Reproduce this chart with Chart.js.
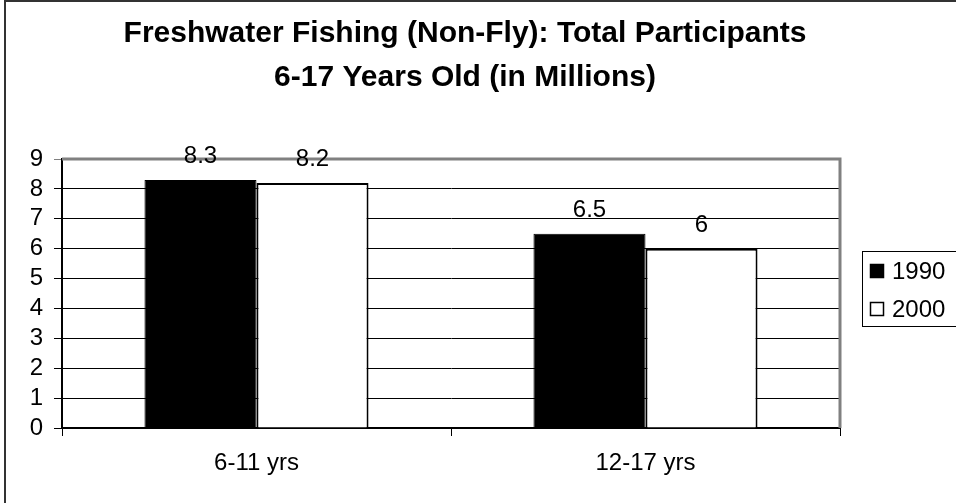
<!DOCTYPE html>
<html>
<head>
<meta charset="utf-8">
<title>Freshwater Fishing (Non-Fly)</title>
<script src="https://cdn.jsdelivr.net/npm/chart.js@4/dist/chart.umd.min.js"></script>
<style>
  body { margin: 0; background: #fff; }
  canvas { display: block; background: #fff; }
</style>
</head>
<body>
<canvas id="myChart" width="956" height="503"></canvas>
<script>
var titleLines = ['Freshwater Fishing (Non-Fly): Total Participants', '6-17 Years Old (in Millions)'];
var ageGroups = ['6-11 yrs', '12-17 yrs'];
var seriesNames = ['1990', '2000'];
var values1990 = [8.3, 6.5];
var values2000 = [8.2, 6];
var yTicks = [0, 1, 2, 3, 4, 5, 6, 7, 8, 9];

var FONT = '"Liberation Sans", Arial, sans-serif';

// title, outer frame and the gray plot border
var framePlugin = {
    id: 'frame',
    beforeDatasetsDraw: function (chart) {
        var c = chart.ctx, a = chart.chartArea;
        c.save();
        c.strokeStyle = '#808080';
        c.lineWidth = 3;
        c.beginPath();
        c.moveTo(a.left, a.top);
        c.lineTo(a.right, a.top);
        c.lineTo(a.right, a.bottom);
        c.stroke();
        c.restore();
    },
    afterDraw: function (chart) {
        var c = chart.ctx;
        c.save();
        c.strokeStyle = '#333';
        c.lineWidth = 2;
        c.beginPath();
        c.moveTo(5, 503);
        c.lineTo(5, 1);
        c.lineTo(956, 1);
        c.stroke();

        c.fillStyle = '#000';
        c.font = 'bold 30px ' + FONT;
        c.textAlign = 'center';
        c.textBaseline = 'middle';
        c.fillText(titleLines[0], 465, 34);
        c.fillText(titleLines[1], 465, 78);
        c.restore();
    }
};

// value labels above each bar
var valueLabels = {
    id: 'valueLabels',
    afterDatasetsDraw: function (chart) {
        var c = chart.ctx;
        c.save();
        c.fillStyle = '#000';
        c.font = '24px ' + FONT;
        c.textAlign = 'center';
        c.textBaseline = 'alphabetic';
        chart.data.datasets.forEach(function (ds, i) {
            chart.getDatasetMeta(i).data.forEach(function (bar, k) {
                c.fillText(String(ds.data[k]), bar.x, bar.y - 17);
            });
        });
        c.restore();
    }
};

// boxed legend on the right
var boxLegend = {
    id: 'boxLegend',
    afterDraw: function (chart) {
        var c = chart.ctx;
        c.save();
        c.strokeStyle = '#000';
        c.lineWidth = 1;
        c.strokeRect(862.5, 251.5, 110, 75);
        c.font = '24px ' + FONT;
        c.textBaseline = 'middle';
        c.textAlign = 'left';
        chart.data.datasets.forEach(function (ds, i) {
            var y = 271 + i * 38;
            c.fillStyle = ds.backgroundColor;
            c.fillRect(870, y - 7, 14, 14);
            c.strokeStyle = '#000';
            c.lineWidth = 1.5;
            c.strokeRect(870.5, y - 6.5, 13, 13);
            c.fillStyle = '#000';
            c.fillText(ds.label, 892, y + 1);
        });
        c.restore();
    }
};

var ctx = document.getElementById('myChart').getContext('2d');
var myChart = new Chart(ctx, {
    type: 'bar',
    data: {
        labels: ageGroups,
        datasets: [{
            label: seriesNames[0],
            data: values1990,
            backgroundColor: '#000000',
            borderColor: '#000000',
            borderWidth: 1
        }, {
            label: seriesNames[1],
            data: values2000,
            backgroundColor: '#ffffff',
            borderColor: '#000000',
            borderWidth: 2
        }]
    },
    options: {
        responsive: false,
        animation: false,
        devicePixelRatio: 1,
        categoryPercentage: 0.576,
        barPercentage: 1,
        layout: {
            padding: { top: 159, right: 116, left: 0, bottom: 0 }
        },
        plugins: {
            legend: { display: false },
            title: { display: false },
            tooltip: { enabled: false }
        },
        scales: {
            x: {
                grid: {
                    offset: true,
                    drawOnChartArea: false,
                    drawTicks: true,
                    tickLength: 8,
                    color: '#000'
                },
                border: { color: '#000', width: 2 },
                ticks: {
                    color: '#000',
                    font: { family: FONT, size: 24 },
                    padding: 13,
                    maxRotation: 0,
                    autoSkip: false
                },
                afterFit: function (scale) { scale.height = 75; }
            },
            y: {
                min: 0,
                max: 9,
                afterBuildTicks: function (scale) {
                    scale.ticks = yTicks.map(function (v) { return { value: v }; });
                },
                grid: {
                    color: function (c) { return c.tick && c.tick.value === 9 ? '#808080' : '#000'; },
                    lineWidth: 1,
                    tickLength: 8
                },
                border: { color: '#000', width: 2 },
                ticks: {
                    color: '#000',
                    font: { family: FONT, size: 24 },
                    padding: 11,
                    autoSkip: false
                },
                afterFit: function (scale) { scale.width = 62; }
            }
        }
    },
    plugins: [framePlugin, valueLabels, boxLegend]
});
</script>
</body>
</html>
